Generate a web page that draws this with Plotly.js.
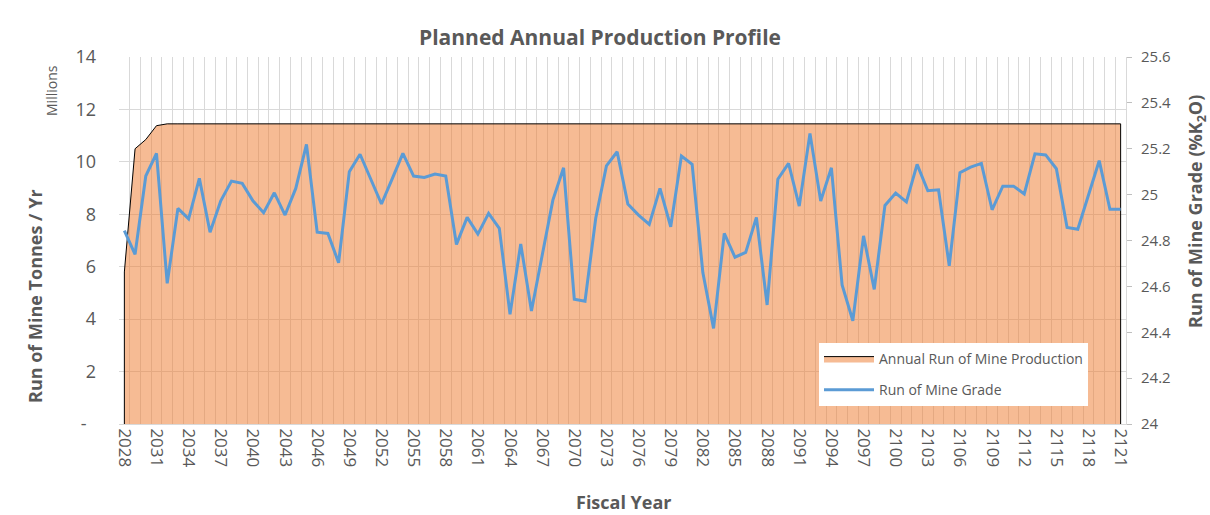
<!DOCTYPE html>
<html>
<head>
<meta charset="utf-8">
<script src="https://cdn.plot.ly/plotly-3.0.1.min.js"></script>
<style>html,body{margin:0;padding:0;background:#fff;}#chart{width:1210px;height:515px;}</style>
</head>
<body>
<div id="chart"></div>
<script>
// Fiscal years 2028..2121
const years = [];
for (let y = 2028; y <= 2121; y++) years.push(y);

// Annual run of mine production (millions of tonnes)
const production = [
  5.8, 10.5, 10.85, 11.38, 11.45, 11.45, 11.45, 11.45, 11.45, 11.45,
  11.45, 11.45, 11.45, 11.45, 11.45, 11.45, 11.45, 11.45, 11.45, 11.45,
  11.45, 11.45, 11.45, 11.45, 11.45, 11.45, 11.45, 11.45, 11.45, 11.45,
  11.45, 11.45, 11.45, 11.45, 11.45, 11.45, 11.45, 11.45, 11.45, 11.45,
  11.45, 11.45, 11.45, 11.45, 11.45, 11.45, 11.45, 11.45, 11.45, 11.45,
  11.45, 11.45, 11.45, 11.45, 11.45, 11.45, 11.45, 11.45, 11.45, 11.45,
  11.45, 11.45, 11.45, 11.45, 11.45, 11.45, 11.45, 11.45, 11.45, 11.45,
  11.45, 11.45, 11.45, 11.45, 11.45, 11.45, 11.45, 11.45, 11.45, 11.45,
  11.45, 11.45, 11.45, 11.45, 11.45, 11.45, 11.45, 11.45, 11.45, 11.45,
  11.45, 11.45, 11.45, 11.45
];

// Run of mine grade (%K2O)
const grade = [
  24.843, 24.740, 25.081, 25.180, 24.613, 24.940, 24.894, 25.071, 24.836, 24.973,
  25.059, 25.049, 24.973, 24.921, 25.008, 24.911, 25.027, 25.219, 24.836, 24.831,
  24.703, 25.100, 25.176, 25.067, 24.959, 25.069, 25.180, 25.081, 25.075, 25.090,
  25.081, 24.783, 24.901, 24.828, 24.918, 24.853, 24.478, 24.785, 24.493, 24.735,
  24.976, 25.117, 24.544, 24.535, 24.897, 25.125, 25.187, 24.959, 24.911, 24.870,
  25.027, 24.860, 25.168, 25.132, 24.660, 24.417, 24.831, 24.727, 24.748, 24.901,
  24.519, 25.067, 25.136, 24.950, 25.267, 24.972, 25.117, 24.606, 24.450, 24.820,
  24.587, 24.953, 25.007, 24.968, 25.132, 25.017, 25.021, 24.690, 25.096, 25.120,
  25.136, 24.934, 25.037, 25.037, 25.003, 25.178, 25.173, 25.113, 24.857, 24.849,
  25.001, 25.148, 24.936, 24.936
];

// Tick labels
const xTickVals = years.filter(y => (y - 2028) % 3 === 0);
const leftTickVals = [0, 2, 4, 6, 8, 10, 12, 14];
const leftTickText = ['-&nbsp;&nbsp;', '2', '4', '6', '8', '10', '12', '14'];
const rightTickVals = [24, 24.2, 24.4, 24.6, 24.8, 25, 25.2, 25.4, 25.6];
const rightTickText = ['24', '24.2', '24.4', '24.6', '24.8', '25', '25.2', '25.4', '25.6'];

const FONT = '"Open Sans", "Noto Sans", sans-serif';
const GREY = '#595959';

// Area outline closed to zero at both ends (derived from data arrays)
const areaX = [years[0]].concat(years, [years[years.length - 1]]);
const areaY = [0].concat(production, [0]);

const traces = [
  {
    x: areaX, y: areaY,
    type: 'scatter', mode: 'lines',
    fill: 'toself',
    fillcolor: 'rgba(237,125,49,0.52)',
    line: {color: '#000000', width: 1},
    name: 'Annual Run of Mine Production',
    legendgroup: 'a',
    hoverinfo: 'skip'
  },
  {
    x: years, y: grade,
    type: 'scatter', mode: 'lines',
    yaxis: 'y2',
    line: {color: '#5B9BD5', width: 3},
    name: 'Run of Mine Grade',
    legendgroup: 'b'
  }
];

const H = 515, W = 1210;
const plotTop = 57, plotBottom = 424, plotLeft = 119, plotRight = 1126;
const pH = plotBottom - plotTop, pW = plotRight - plotLeft;

const layout = {
  width: W, height: H,
  margin: {l: plotLeft, r: W - plotRight, t: plotTop, b: H - plotBottom},
  paper_bgcolor: '#ffffff',
  plot_bgcolor: '#ffffff',
  font: {family: FONT, color: GREY},
  title: {
    text: '<b>Planned Annual Production Profile</b>',
    font: {family: FONT, size: 21, color: GREY},
    x: 600 / W, xanchor: 'center', xref: 'container',
    y: 1 - 38 / H, yanchor: 'middle', yref: 'container'
  },
  showlegend: true,
  legend: {
    x: (819 - plotLeft) / pW, xanchor: 'left',
    y: (plotBottom - 343) / pH, yanchor: 'top',
    bgcolor: '#ffffff',
    borderwidth: 0,
    font: {family: FONT, size: 14, color: GREY},
    itemwidth: 50,
    traceorder: 'grouped',
    tracegroupgap: 10
  },
  xaxis: {
    range: [2027.5, 2121.5],
    tickmode: 'array',
    tickvals: xTickVals,
    ticktext: xTickVals.map(String),
    tickangle: 90,
    tickfont: {family: FONT, size: 17, color: GREY},
    showgrid: false,
    zeroline: false,
    showline: true,
    linecolor: '#D9D9D9',
    linewidth: 1,
    ticks: '',
    minor: {tick0: 2027.5, dtick: 1, showgrid: true, gridcolor: '#D9D9D9', gridwidth: 1, ticks: ''}
  },
  yaxis: {
    range: [0, 14],
    tickmode: 'array',
    tickvals: leftTickVals,
    ticktext: leftTickText,
    tickfont: {family: FONT, size: 18, color: GREY},
    showgrid: true,
    gridcolor: '#D9D9D9',
    gridwidth: 1,
    zeroline: false,
    showline: false,
    ticks: '',
    ticklabelstandoff: 22
  },
  yaxis2: {
    range: [24, 25.6],
    overlaying: 'y',
    side: 'right',
    tickmode: 'array',
    tickvals: rightTickVals,
    ticktext: rightTickText,
    tickfont: {family: FONT, size: 15, color: GREY},
    showgrid: false,
    zeroline: false,
    showline: true,
    linecolor: '#D9D9D9',
    ticks: 'outside',
    ticklen: 5,
    tickcolor: '#BFBFBF',
    ticklabelstandoff: 6
  },
  annotations: [
    {
      text: '<b>Run of Mine Tonnes / Yr</b>',
      xref: 'paper', yref: 'paper',
      x: (35 - plotLeft) / pW, y: (plotBottom - 296) / pH,
      xanchor: 'center', yanchor: 'middle',
      textangle: -90, showarrow: false,
      font: {family: FONT, size: 18, color: GREY}
    },
    {
      text: 'Millions',
      xref: 'paper', yref: 'paper',
      x: (51 - plotLeft) / pW, y: (plotBottom - 91) / pH,
      xanchor: 'center', yanchor: 'middle',
      textangle: -90, showarrow: false,
      font: {family: FONT, size: 14, color: GREY}
    },
    {
      text: '<b>Run of Mine Grade (%K<sub>2</sub>O)</b>',
      xref: 'paper', yref: 'paper',
      x: (1196 - plotLeft) / pW, y: (plotBottom - 212) / pH,
      xanchor: 'center', yanchor: 'middle',
      textangle: -90, showarrow: false,
      font: {family: FONT, size: 18, color: GREY}
    },
    {
      text: '<b>Fiscal Year</b>',
      xref: 'paper', yref: 'paper',
      x: (624 - plotLeft) / pW, y: (plotBottom - 502) / pH,
      xanchor: 'center', yanchor: 'middle',
      showarrow: false,
      font: {family: FONT, size: 18, color: GREY}
    }
  ]
};

Plotly.newPlot('chart', traces, layout, {displayModeBar: false, staticPlot: true});
</script>
</body>
</html>
